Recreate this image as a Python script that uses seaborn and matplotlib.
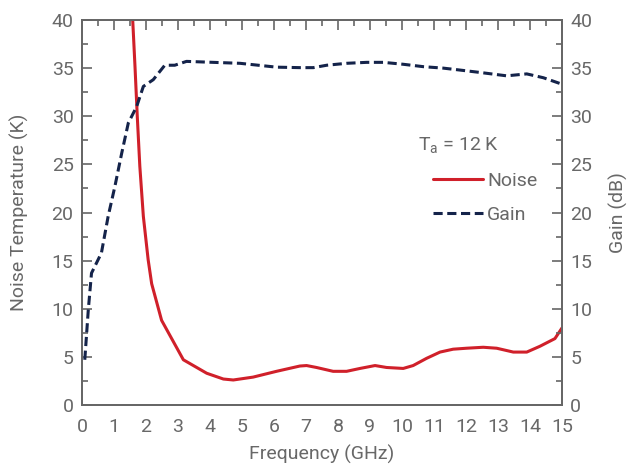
import matplotlib
matplotlib.use("Agg")
import matplotlib.pyplot as plt
import seaborn as sns
import pandas as pd
from matplotlib.ticker import MultipleLocator

noise_freq = [1.58, 1.66, 1.73, 1.81, 1.92, 2.07, 2.18, 2.49, 3.17, 3.9, 4.42, 4.73, 5.35,
              6.08, 6.81, 7.02, 7.33, 7.85, 8.27, 8.69, 9.16, 9.52, 10.04, 10.35, 10.77,
              11.19, 11.6, 12.02, 12.54, 12.96, 13.48, 13.9, 14.31, 14.78, 15.0]
noise_temp = [40.5, 35.1, 30.0, 24.8, 19.6, 15.1, 12.6, 8.8, 4.7, 3.3, 2.7, 2.6, 2.9,
              3.5, 4.05, 4.1, 3.9, 3.5, 3.5, 3.8, 4.1, 3.9, 3.8, 4.1, 4.85,
              5.5, 5.8, 5.9, 6.0, 5.9, 5.5, 5.5, 6.1, 6.9, 8.0]

gain_freq = [0.09, 0.2, 0.3, 0.61, 0.82, 1.03, 1.24, 1.45, 1.71, 1.92, 2.23, 2.59, 2.9,
             3.27, 4.1, 4.94, 6.08, 6.81, 7.23, 7.65, 8.27, 8.9, 9.42, 10.04, 10.67,
             11.29, 11.81, 12.44, 13.27, 13.9, 14.42, 14.94]
gain_db = [4.7, 9.9, 13.7, 15.8, 19.6, 22.7, 26.1, 29.3, 31.0, 33.1, 33.8, 35.3, 35.3,
           35.7, 35.6, 35.5, 35.1, 35.05, 35.05, 35.3, 35.5, 35.6, 35.6, 35.4, 35.15,
           35.0, 34.8, 34.55, 34.2, 34.4, 34.0, 33.4]

x_ticks = list(range(0, 16))
y_ticks = list(range(0, 41, 5))

noise_df = pd.DataFrame({"f": noise_freq, "v": noise_temp})
gain_df = pd.DataFrame({"f": gain_freq, "v": gain_db})

sns.set_style("white")
plt.rcParams["font.family"] = ["Roboto", "DejaVu Sans"]
plt.rcParams["font.weight"] = "normal"
plt.rcParams["mathtext.default"] = "regular"
text_col = "#686868"
axis_col = "#666666"
fs = 14
plt.rcParams.update({"text.color": text_col, "axes.labelcolor": text_col,
                     "xtick.color": axis_col, "ytick.color": axis_col,
                     "xtick.labelcolor": text_col, "ytick.labelcolor": text_col})

fig = plt.figure(figsize=(6.3, 4.65), dpi=100)
ax = fig.add_axes([0.130, 0.129, 0.762, 0.828])
ax2 = ax.twinx()

sns.lineplot(data=noise_df, x="f", y="v", ax=ax, color="#d0202a", lw=2.2, sort=False,
             label="Noise", legend=False)
sns.lineplot(data=gain_df, x="f", y="v", ax=ax2, color="#14234a", lw=2.2, sort=False,
             label="Gain", legend=False, linestyle=(0, (3, 1.5)))

for a in (ax, ax2):
    a.set_xlim(0, 15)
    a.set_ylim(0, 40)
    a.set_yticks(y_ticks)
    a.yaxis.set_minor_locator(MultipleLocator(2.5))
    for s in a.spines.values():
        s.set_color(axis_col)
        s.set_linewidth(1.3)
ax.set_xticks(x_ticks)
ax.xaxis.set_minor_locator(MultipleLocator(0.5))
ax.tick_params(which="both", direction="in", top=True, labelsize=fs, width=1.2)
ax.tick_params(axis="y", which="both", pad=6)
ax.tick_params(axis="x", which="both", pad=9)
ax.tick_params(which="major", length=7.5)
ax.tick_params(which="minor", length=4)
ax2.tick_params(which="both", direction="in", labelsize=fs, pad=6, width=1.2)
ax2.tick_params(which="major", length=7.5)
ax2.tick_params(which="minor", length=4)

ax.set_xlabel("Frequency (GHz)", fontsize=fs, labelpad=7)
ax.set_ylabel("Noise Temperature (K)", fontsize=fs, labelpad=16)
ax2.set_ylabel("Gain (dB)", fontsize=fs, labelpad=12)

h1, l1 = ax.get_legend_handles_labels()
h2, l2 = ax2.get_legend_handles_labels()
fig.text(418 / 630, 1 - 145 / 465, r"T$_\mathregular{a}$ = 12 K", fontsize=fs,
         ha="left", va="center", color=text_col)
leg = ax2.legend(h1 + h2, l1 + l2, loc="upper left",
                 bbox_to_anchor=(0.731, 0.605), frameon=False, fontsize=fs,
                 handlelength=2.6, handletextpad=0.2, labelspacing=0.8,
                 borderaxespad=0, borderpad=0)
for t in leg.get_texts():
    t.set_color(text_col)

fig.savefig("out.png", dpi=100)
